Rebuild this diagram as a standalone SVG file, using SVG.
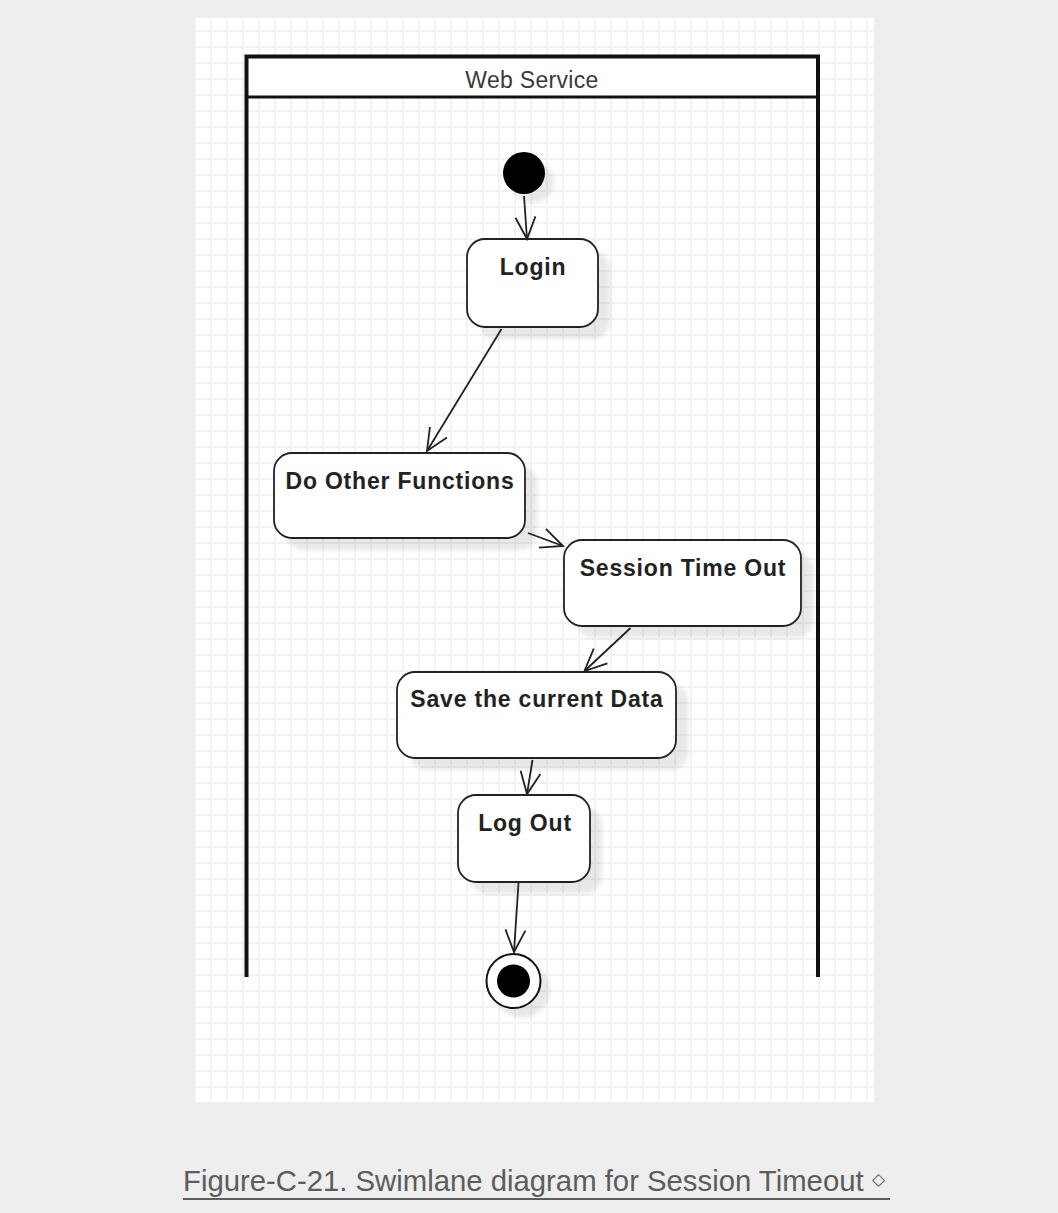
<svg xmlns="http://www.w3.org/2000/svg" width="1058" height="1213" viewBox="0 0 1058 1213">
  <style>
    .lane { fill: none; stroke: #111; stroke-width: 4; }
    .lane-sep { stroke: #111; stroke-width: 3; }
    .lane-title { font-family: "Liberation Sans", Arial, sans-serif; font-size: 23px; fill: #3a3a3a; text-anchor: middle; letter-spacing: 0.3px; }
    .box { fill: #fff; stroke: #222; stroke-width: 1.8; }
    .shadow { fill: #000; opacity: 0.085; filter: url(#soft); }
    .label { font-family: "Liberation Sans", Arial, sans-serif; font-size: 23px; font-weight: bold; fill: #222; text-anchor: middle; letter-spacing: 0.8px; }
    .edge { fill: none; stroke: #222; stroke-width: 1.8; marker-end: url(#open-arrow); }
    .caption { font-family: "Liberation Sans", Arial, sans-serif; font-size: 29.3px; fill: #5c5c5c; }
  </style>
  <defs>
    <pattern id="grid" patternUnits="userSpaceOnUse" x="2" y="14" width="16" height="16">
      <rect x="0" y="0" width="16" height="16" fill="#fff"/>
      <rect x="0" y="0" width="2" height="16" fill="#f3f3f3"/>
      <rect x="0" y="0" width="16" height="2" fill="#f3f3f3"/>
    </pattern>
    <filter id="soft" x="-20%" y="-20%" width="140%" height="140%">
      <feGaussianBlur stdDeviation="2.5"/>
    </filter>
    <marker id="open-arrow" markerUnits="userSpaceOnUse" viewBox="-26 -14 30 28" refX="0" refY="0" markerWidth="30" markerHeight="28" orient="auto">
      <path d="M-22,-10 L0,0 L-22,10" fill="none" stroke="#222" stroke-width="1.8"/>
    </marker>
  </defs>

  <!-- page background and gridded canvas -->
  <rect x="0" y="0" width="1058" height="1213" fill="#eeeeee"/>
  <rect x="195" y="18" width="679" height="1084" fill="url(#grid)"/>

  <!-- swimlane -->
  <g id="lane-web-service">
    <rect x="246.5" y="56.5" width="571.5" height="40.5" fill="#fff"/>
    <path class="lane" d="M246.5,977 V56.5 H818 V977"/>
    <line class="lane-sep" x1="246.5" y1="97" x2="818" y2="97"/>
    <text class="lane-title" x="532" y="88">Web Service</text>
  </g>

  <!-- initial node -->
  <g id="start">
    <circle class="shadow" cx="533" cy="182" r="21"/>
    <circle cx="524" cy="173" r="21" fill="#000"/>
  </g>

  <g id="login">
    <rect class="shadow" x="479" y="251" width="131" height="88" rx="18"/>
    <rect class="box" x="467" y="239" width="131" height="88" rx="18"/>
    <text class="label" x="533" y="275">Login</text>
  </g>

  <g id="do-other-functions">
    <rect class="shadow" x="286" y="465" width="251" height="85" rx="18"/>
    <rect class="box" x="274" y="453" width="251" height="85" rx="18"/>
    <text class="label" x="400" y="489">Do Other Functions</text>
  </g>

  <g id="session-time-out">
    <rect class="shadow" x="576" y="552" width="237" height="86" rx="18"/>
    <rect class="box" x="564" y="540" width="237" height="86" rx="18"/>
    <text class="label" x="683" y="576">Session Time Out</text>
  </g>

  <g id="save-current-data">
    <rect class="shadow" x="409" y="684" width="279" height="86" rx="18"/>
    <rect class="box" x="397" y="672" width="279" height="86" rx="18"/>
    <text class="label" x="537" y="707">Save the current Data</text>
  </g>

  <g id="log-out">
    <rect class="shadow" x="470" y="807" width="132" height="87" rx="18"/>
    <rect class="box" x="458" y="795" width="132" height="87" rx="18"/>
    <text class="label" x="525" y="831">Log Out</text>
  </g>

  <!-- final node -->
  <g id="end">
    <circle class="shadow" cx="522" cy="990" r="28"/>
    <circle cx="513.5" cy="981" r="27" fill="#fff" stroke="#111" stroke-width="2"/>
    <circle cx="513.5" cy="981" r="16.5" fill="#000"/>
  </g>

  <!-- transitions -->
  <g id="connectors">
    <line class="edge" x1="524" y1="196" x2="527" y2="239"/>
    <line class="edge" x1="501.5" y1="329" x2="427" y2="451"/>
    <line class="edge" x1="528" y1="533" x2="563" y2="546"/>
    <line class="edge" x1="630.5" y1="628" x2="584.5" y2="671"/>
    <line class="edge" x1="532.5" y1="760" x2="527" y2="794"/>
    <line class="edge" x1="518.5" y1="883" x2="514" y2="952"/>
  </g>

  <!-- caption -->
  <g id="caption">
    <text class="caption" x="183" y="1191">Figure-C-21. Swimlane diagram for Session Timeout <tspan font-size="17" dy="-6">◇</tspan></text>
    <line x1="183" y1="1199" x2="890" y2="1199" stroke="#5c5c5c" stroke-width="2"/>
  </g>
</svg>
